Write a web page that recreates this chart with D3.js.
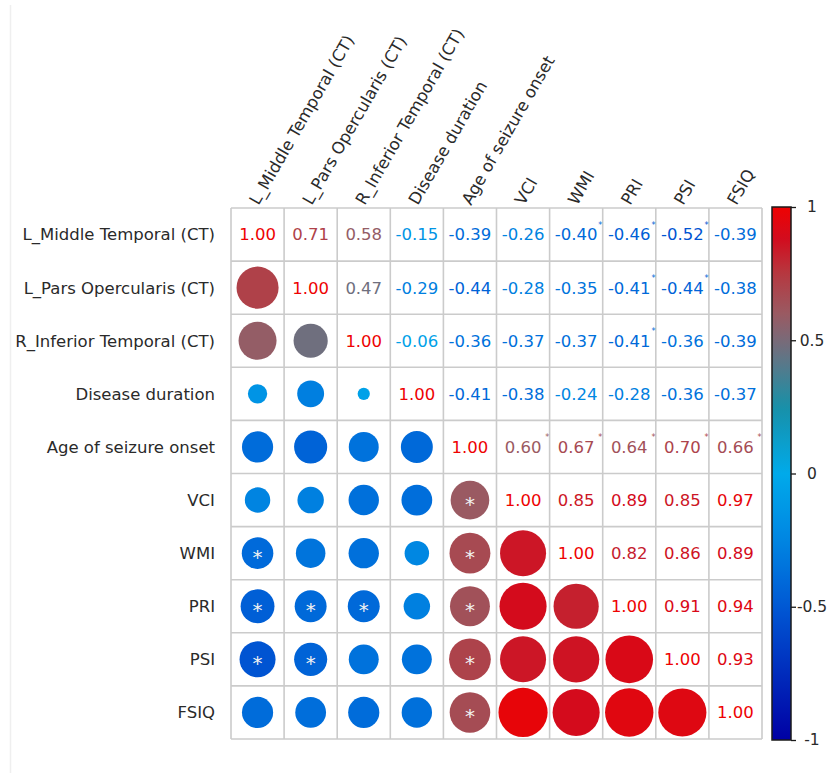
<!DOCTYPE html>
<html>
<head>
<meta charset="utf-8">
<script src="https://cdn.jsdelivr.net/npm/d3@7"></script>
<style>
  html, body { margin: 0; padding: 0; background: #ffffff; }
  svg { display: block; }
  text { font-family: "DejaVu Sans", sans-serif; }
</style>
</head>
<body>
<script>
// ---------------- data ----------------
const variables = ["L_Middle Temporal (CT)", "L_Pars Opercularis (CT)", "R_Inferior Temporal (CT)",
  "Disease duration", "Age of seizure onset", "VCI", "WMI", "PRI", "PSI", "FSIQ"];

const rLMiddle   = [ 1.00,  0.71,  0.58, -0.15, -0.39, -0.26, -0.40, -0.46, -0.52, -0.39];
const rLPars     = [ 0.71,  1.00,  0.47, -0.29, -0.44, -0.28, -0.35, -0.41, -0.44, -0.38];
const rRInf      = [ 0.58,  0.47,  1.00, -0.06, -0.36, -0.37, -0.37, -0.41, -0.36, -0.39];
const rDisease   = [-0.15, -0.29, -0.06,  1.00, -0.41, -0.38, -0.24, -0.28, -0.36, -0.37];
const rAgeOnset  = [-0.39, -0.44, -0.36, -0.41,  1.00,  0.60,  0.67,  0.64,  0.70,  0.66];
const rVCI       = [-0.26, -0.28, -0.37, -0.38,  0.60,  1.00,  0.85,  0.89,  0.85,  0.97];
const rWMI       = [-0.40, -0.35, -0.37, -0.24,  0.67,  0.85,  1.00,  0.82,  0.86,  0.89];
const rPRI       = [-0.46, -0.41, -0.41, -0.28,  0.64,  0.89,  0.82,  1.00,  0.91,  0.94];
const rPSI       = [-0.52, -0.44, -0.36, -0.36,  0.70,  0.85,  0.86,  0.91,  1.00,  0.93];
const rFSIQ      = [-0.39, -0.38, -0.39, -0.37,  0.66,  0.97,  0.89,  0.94,  0.93,  1.00];

// significant pairs (row index, column index), p < 0.05
const significantPairs = [[0,6],[0,7],[0,8],[1,7],[1,8],[2,7],[4,5],[4,6],[4,7],[4,8],[4,9]];

const colorbarTicks = [1, 0.5, 0, -0.5, -1];
const colorbarTickLabels = ["1", "0.5", "0", "-0.5", "-1"];

// colour map stops
const cmapValues = [-1, -0.5, -0.25, 0, 0.25, 0.4, 0.5, 0.6, 0.75, 0.88, 1];
const cmapColors = ["#0000a4", "#0058d4", "#0086e2", "#00aaea", "#1890a8", "#547a8c",
                    "#7a6a78", "#9a5a62", "#b63840", "#d20c1e", "#ee0202"];

// ---------------- layout ----------------
const W = 832, H = 773;
const corr = [rLMiddle, rLPars, rRInf, rDisease, rAgeOnset, rVCI, rWMI, rPRI, rPSI, rFSIQ];
const sig = new Set(significantPairs.flatMap(([a, b]) => [a + "-" + b, b + "-" + a]));

const svg = d3.select("body").append("svg").attr("width", W).attr("height", H);
svg.append("rect").attr("width", W).attr("height", H).attr("fill", "#fff");
// faint frame line at left
svg.append("line").attr("x1", 10.5).attr("x2", 10.5).attr("y1", 5).attr("y2", H)
  .attr("stroke", "#efefef").attr("stroke-width", 1.5);

const x = d3.scaleBand().domain(variables).range([231, 762]);
const y = d3.scaleBand().domain(variables).range([208, 739]);
const color = d3.scaleLinear().domain(cmapValues).range(cmapColors).interpolate(d3.interpolateRgb);
const rScale = d3.scaleSqrt().domain([0, 1]).range([0, x.bandwidth() * 0.47]);

const cells = [];
corr.forEach((row, i) => row.forEach((v, j) => cells.push({ i, j, v, s: sig.has(i + "-" + j) })));

// grid
const grid = svg.append("g");
const edges = variables.map(v => x(v)).concat([762]);
grid.selectAll("line.v").data(edges).join("line")
  .attr("x1", d => d).attr("x2", d => d).attr("y1", 208).attr("y2", 739)
  .attr("stroke", "#cbcbcb").attr("stroke-width", 1.6);
const yEdges = variables.map(v => y(v)).concat([739]);
grid.selectAll("line.h").data(yEdges).join("line")
  .attr("y1", d => d).attr("y2", d => d).attr("x1", 231).attr("x2", 762)
  .attr("stroke", "#cbcbcb").attr("stroke-width", 1.6);

const bw = x.bandwidth();
const cx = d => x(variables[d.j]) + bw / 2;
const cy = d => y(variables[d.i]) + bw / 2;

// lower triangle: circles
const lower = cells.filter(d => d.i > d.j);
svg.append("g").selectAll("circle").data(lower).join("circle")
  .attr("cx", cx).attr("cy", cy).attr("r", d => rScale(Math.abs(d.v)))
  .attr("fill", d => color(d.v));
svg.append("g").selectAll("text").data(lower.filter(d => d.s)).join("text")
  .attr("x", cx).attr("y", d => cy(d) + 10.5).attr("text-anchor", "middle")
  .attr("font-size", 20).attr("fill", "#f2f2f2").text("*");

// upper triangle + diagonal: numbers
const upper = cells.filter(d => d.i <= d.j);
svg.append("g").selectAll("text").data(upper).join("text")
  .attr("x", cx).attr("y", cy).attr("dy", "0.36em").attr("text-anchor", "middle")
  .attr("font-size", 16.5).attr("fill", d => color(d.v)).text(d => d.v.toFixed(2));
svg.append("g").selectAll("text").data(upper.filter(d => d.s)).join("text")
  .attr("x", d => x(variables[d.j]) + bw - 2.4).attr("y", d => cy(d) - 7)
  .attr("text-anchor", "middle").attr("font-size", 8).attr("fill", d => color(d.v)).text("*");

// row labels
svg.append("g").selectAll("text").data(variables).join("text")
  .attr("x", 215).attr("y", d => y(d) + bw / 2).attr("dy", "0.36em")
  .attr("text-anchor", "end").attr("font-size", 16.5).attr("fill", "#2a2a2a").text(d => d);

// column labels (rotated)
svg.append("g").selectAll("text").data(variables).join("text")
  .attr("transform", d => `translate(${x(d) + bw / 2 + 1},${206}) rotate(-60)`)
  .attr("text-anchor", "start").attr("font-size", 16.5).attr("fill", "#2a2a2a").text(d => d);

// ---------------- colorbar ----------------
const cbX = 772, cbW = 19;
const cbScale = d3.scaleLinear().domain([-1, 1]).range([740, 207]);
const defs = svg.append("defs");
const grad = defs.append("linearGradient").attr("id", "cbgrad")
  .attr("x1", 0).attr("y1", 1).attr("x2", 0).attr("y2", 0);
d3.range(0, 1.0001, 0.02).forEach(t => {
  grad.append("stop").attr("offset", t).attr("stop-color", color(-1 + 2 * t));
});
svg.append("rect").attr("x", cbX).attr("y", cbScale(1)).attr("width", cbW)
  .attr("height", cbScale(-1) - cbScale(1)).attr("fill", "url(#cbgrad)")
  .attr("stroke", "#1a1a1a").attr("stroke-width", 1.5);
const cbAxis = d3.axisRight(cbScale).tickValues(colorbarTicks).tickSize(5)
  .tickFormat((d, k) => colorbarTickLabels[k]);
const cbG = svg.append("g").attr("transform", `translate(${cbX + cbW},0)`).call(cbAxis);
cbG.select(".domain").remove();
cbG.selectAll(".tick line").attr("stroke", "#1a1a1a").attr("stroke-width", 1.3);
cbG.selectAll(".tick text").attr("x", 21).attr("text-anchor", "middle")
  .attr("font-size", 15.5).attr("font-family", "DejaVu Sans, sans-serif").attr("fill", "#2a2a2a");
</script>
</body>
</html>
